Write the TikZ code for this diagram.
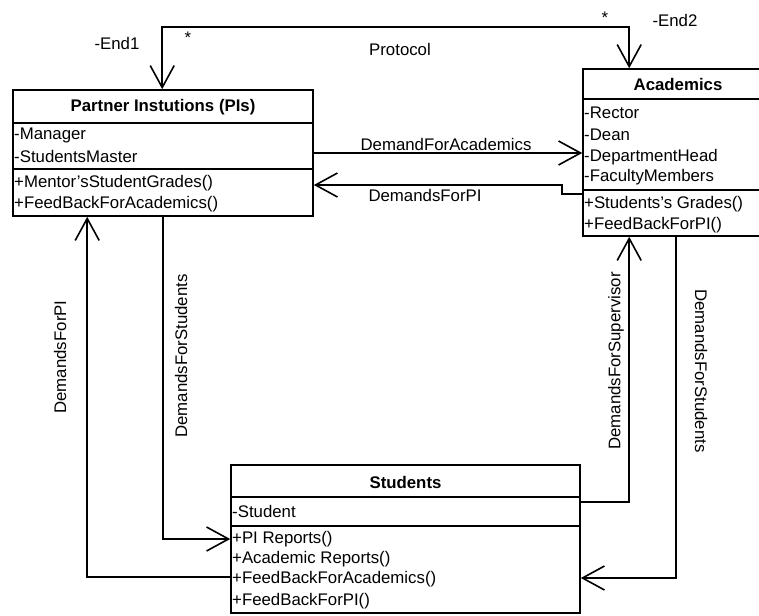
\documentclass[tikz,border=0pt]{standalone}
\usepackage{fontspec}
\setmainfont{Liberation Sans}
\usetikzlibrary{arrows.meta}
\newcommand{\sq}{{\char"27}}
\tikzset{
  lw/.style={line width=1.6pt},
  umlbox/.style={draw, lw, rectangle, inner sep=0pt, anchor=center},
  txt/.style={font=\fontsize{16.8}{20}\selectfont, inner sep=0pt},
  row/.style={txt, anchor=west},
  ttl/.style={txt, font=\fontsize{16.8}{20}\selectfont\bfseries},
  arr/.style={lw, -{Straight Barb[length=22pt,width=24pt,line width=1.6pt]}},
  dbl/.style={lw, {Straight Barb[length=22pt,width=24pt,line width=1.6pt]}-{Straight Barb[length=22pt,width=24pt,line width=1.6pt]}},
}
\begin{document}
\begin{tikzpicture}[x=1pt,y=-1pt]
\clip (0,0) rectangle (759,615);
\fill[white] (0,0) rectangle (759,615);

% Partner Institutions box
\node[umlbox, minimum width=300pt, minimum height=126pt] (pi) at (163,153) {};
\draw[lw] (13,123) -- (313,123);
\draw[lw] (13,169) -- (313,169);
\node[ttl] (pititle) at (163,107) {Partner Instutions (PIs)};
\node[row] (pia1) at (14,135) {-Manager};
\node[row] (pia2) at (14,156) {-StudentsMaster};
\node[row] (pim1) at (14,183) {+Mentor\sq sStudentGrades()};
\node[row] (pim2) at (14,204) {+FeedBackForAcademics()};

% Academics box
\node[umlbox, minimum width=190pt, minimum height=167pt] (ac) at (678,152.5) {};
\draw[lw] (583,99) -- (773,99);
\draw[lw] (583,190) -- (773,190);
\node[ttl] (actitle) at (678,84) {Academics};
\node[row] (aca1) at (584,113) {-Rector};
\node[row] (aca2) at (584,135) {-Dean};
\node[row] (aca3) at (584,157) {-DepartmentHead};
\node[row] (aca4) at (584,177) {-FacultyMembers};
\node[row] (acm1) at (584,204) {+Students\sq s Grades()};
\node[row] (acm2) at (584,225) {+FeedBackForPI()};

% Students box
\node[umlbox, minimum width=349pt, minimum height=148pt] (st) at (405.5,539) {};
\draw[lw] (231,497) -- (580,497);
\draw[lw] (231,526) -- (580,526);
\node[ttl] (sttitle) at (405.5,482) {Students};
\node[row] (sta1) at (232,511) {-Student};
\node[row] (stm1) at (232,539) {+PI Reports()};
\node[row] (stm2) at (232,559) {+Academic Reports()};
\node[row] (stm3) at (232,579) {+FeedBackForAcademics()};
\node[row] (stm4) at (232,601) {+FeedBackForPI()};

% Protocol association
\draw[dbl] ([xshift=150pt]pi.north west) -- ++(0,-62) -| ([xshift=47pt]ac.north west);
\node[txt] (end1) at (117,43) {-End1};
\node[txt] (star1) at (188,38) {*};
\node[txt] (proto) at (400,49) {Protocol};
\node[txt] (star2) at (605,18) {*};
\node[txt] (end2) at (675,20) {-End2};

% PI <-> Academics
\draw[arr] (pi.east) -- (pi.east -| ac.west);
\node[txt] (dfa) at (446,144) {DemandForAcademics};
\draw[arr] ([yshift=-41.5pt]ac.west) -- ++(-20,0) |- ([yshift=-32pt]pi.east);
\node[txt] (dfpi) at (425,195) {DemandsForPI};

% PI <-> Students
\draw[arr] ([yshift=-38pt]st.west) -| ([xshift=75pt]pi.south west);
\node[txt, rotate=90] (dfpi2) at (60,357) {DemandsForPI};
\draw[arr] (pi.south) |- (st.west);
\node[txt, rotate=90] (dfs1) at (181,356) {DemandsForStudents};

% Academics <-> Students
\draw[arr] ([yshift=37pt]st.east) -| ([xshift=47pt]ac.south west);
\node[txt, rotate=90] (dfsup) at (616,361) {DemandsForSupervisor};
\draw[arr] ([xshift=94pt]ac.south west) |- ([yshift=-39pt]st.east);
\node[txt, rotate=-90] (dfs2) at (701,371) {DemandsForStudents};
\end{tikzpicture}
\end{document}
